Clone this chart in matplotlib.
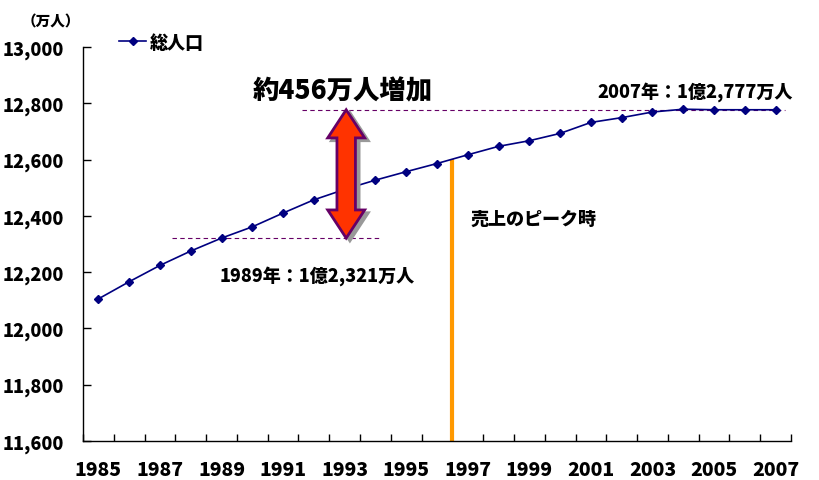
import matplotlib
matplotlib.use("Agg")
import matplotlib.pyplot as plt
import numpy as np
from matplotlib.patches import Polygon
from matplotlib.ticker import FuncFormatter

plt.rcParams["font.family"] = ["Noto Sans CJK JP", "DejaVu Sans"]
plt.rcParams["font.weight"] = "heavy"

years = list(range(1985, 2008))
population = [12105, 12166, 12224, 12275, 12321, 12361, 12410, 12457, 12494,
              12527, 12557, 12586, 12617, 12647, 12667, 12693, 12732, 12749,
              12769, 12779, 12777, 12777, 12777]
year_labels = [str(y) if (y - 1985) % 2 == 0 else "" for y in years]

x = np.arange(len(years))
i_1989 = years.index(1989)
i_2007 = years.index(2007)

fig = plt.figure(figsize=(8.19, 4.81), dpi=100)
ax = fig.add_axes([83 / 819, 1 - 442 / 481, 708 / 819, 394 / 481])

# reference lines
ax.hlines(population[i_1989], 2.4, 9.1, colors="#660066", lw=0.8, linestyles=(0, (4, 3)))
ax.hlines(population[i_2007], 6.6, 22.3, colors="#660066", lw=0.8, linestyles=(0, (4, 3)))

# peak of sales marker
peak_x = 11.5
peak_y = np.interp(peak_x, x, population)
ax.vlines(peak_x, 11600, peak_y, colors="#FF9900", lw=3, zorder=2)

ax.plot(x, population, color="#000080", lw=1.2, marker="D", ms=4,
        label="総人口", zorder=3)

# double arrow between 1989 and 2007 values
ax_c = 8.05
lo, hi = population[i_1989], population[i_2007]
sw, hw, hl = 0.3, 0.6, 100
verts = [(ax_c, hi), (ax_c + hw, hi - hl), (ax_c + sw, hi - hl),
         (ax_c + sw, lo + hl), (ax_c + hw, lo + hl), (ax_c, lo),
         (ax_c - hw, lo + hl), (ax_c - sw, lo + hl), (ax_c - sw, hi - hl),
         (ax_c - hw, hi - hl)]
shadow = [(vx + 0.12, vy - 10) for vx, vy in verts]
ax.add_patch(Polygon(shadow, closed=True, fc="#999999", ec="#999999", lw=2, zorder=4))
ax.add_patch(Polygon(verts, closed=True, fc="#FF3300", ec="#660066", lw=2, zorder=5))

ax.text(5.0, 12845, "約456万人増加", fontsize=19, ha="left", va="center")
ax.text(16.2, 12845, "2007年：1億2,777万人", fontsize=13, ha="left", va="center")
ax.text(3.95, 12190, "1989年：1億2,321万人", fontsize=13, ha="left", va="center")
ax.text(12.1, 12390, "売上のピーク時", fontsize=13, ha="left", va="center")
fig.text(22 / 819, 1 - 22 / 481, "（万人）", fontsize=10.5, ha="left", va="center")

ax.set_xlim(-0.5, len(years) - 0.5)
ax.set_ylim(11600, 13000)
ax.set_yticks(np.arange(11600, 13001, 200))
ax.yaxis.set_major_formatter(FuncFormatter(lambda v, p: f"{int(v):,}"))
ax.set_xticks(x)
ax.set_xticklabels(year_labels)
ax.set_xticks(np.arange(-0.5, len(years), 1), minor=True)
ax.tick_params(axis="x", which="major", length=0, pad=14, labelsize=14)
ax.tick_params(axis="x", which="minor", direction="in", length=5, width=1)
ax.tick_params(axis="y", direction="in", length=6, width=1, labelsize=13, pad=14)
for s in ("top", "right"):
    ax.spines[s].set_visible(False)
for s in ("left", "bottom"):
    ax.spines[s].set_linewidth(1)

fig.legend(loc="center left", bbox_to_anchor=(112 / 819, 1 - 43 / 481), frameon=False,
           fontsize=13, handlelength=1.5, handletextpad=0.2, borderaxespad=0)

fig.savefig("out.png", dpi=100)
